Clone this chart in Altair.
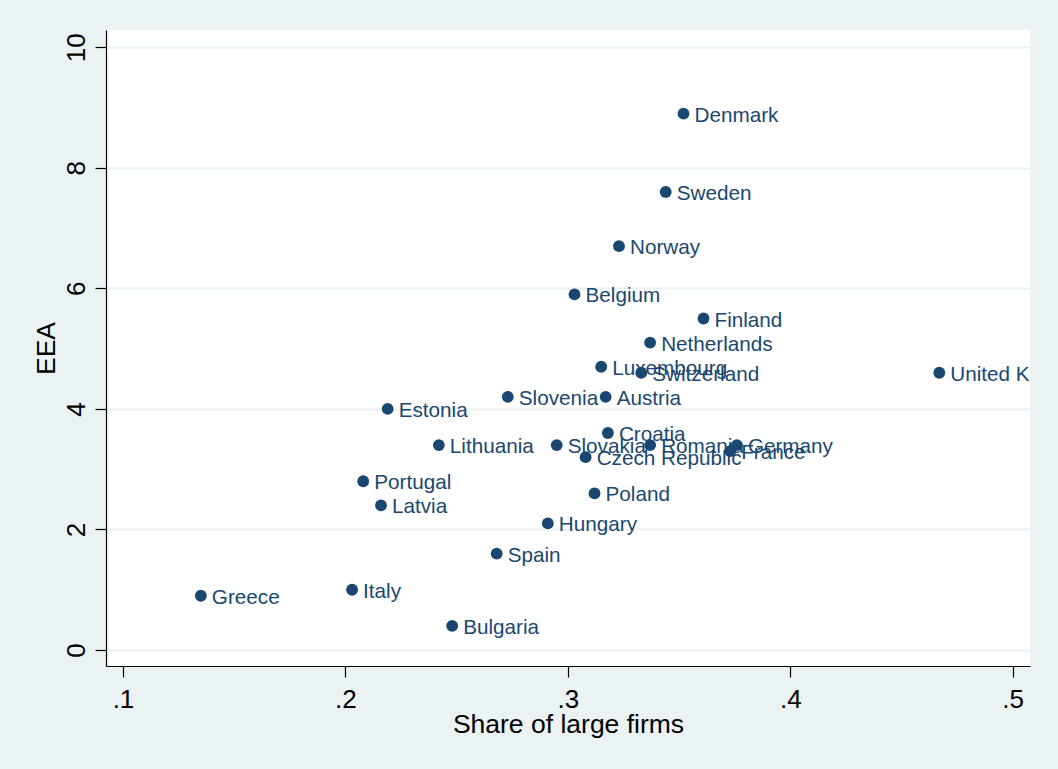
import altair as alt
import pandas as pd

# Country, share of large firms, EEA score
countries = [
    "Denmark", "Sweden", "Norway", "Belgium", "Finland", "Netherlands",
    "Luxembourg", "Switzerland", "United Kingdom", "Estonia", "Slovenia",
    "Austria", "Croatia", "Lithuania", "Slovakia", "Romania", "Germany",
    "France", "Czech Republic", "Portugal", "Latvia", "Poland", "Hungary",
    "Spain", "Italy", "Greece", "Bulgaria",
]
share_large = [
    0.352, 0.344, 0.323, 0.303, 0.361, 0.337,
    0.315, 0.333, 0.467, 0.219, 0.273,
    0.317, 0.318, 0.242, 0.295, 0.337, 0.376,
    0.373, 0.308, 0.208, 0.216, 0.312, 0.291,
    0.268, 0.203, 0.135, 0.248,
]
eea = [
    8.9, 7.6, 6.7, 5.9, 5.5, 5.1,
    4.7, 4.6, 4.6, 4.0, 4.2,
    4.2, 3.6, 3.4, 3.4, 3.4, 3.4,
    3.3, 3.2, 2.8, 2.4, 2.6, 2.1,
    1.6, 1.0, 0.9, 0.4,
]

x_ticks = [0.1, 0.2, 0.3, 0.4, 0.5]
y_ticks = [0, 2, 4, 6, 8, 10]

df = pd.DataFrame({"country": countries, "share": share_large, "eea": eea})

NAVY = "#1A476F"
BG = "#EAF2F3"
FONT = "Liberation Sans"

x_enc = alt.X(
    "share:Q",
    scale=alt.Scale(domain=[0.09236, 0.50778], nice=False, zero=False),
    axis=alt.Axis(
        values=x_ticks,
        labelExpr="substring(format(datum.value, '.1f'), 1)",
        title="Share of large firms",
        grid=False,
        labelFlush=False,
        labelOverlap=False,
        labelBaseline="alphabetic",
        labelPadding=30,
        titleBaseline="alphabetic",
        titleY=66,
    ),
)
y_enc = alt.Y(
    "eea:Q",
    scale=alt.Scale(domain=[-0.2655, 10.287], nice=False, zero=False),
    axis=alt.Axis(
        values=y_ticks,
        format="d",
        title="EEA",
        grid=True,
        gridColor=BG,
        gridWidth=2,
        labelAngle=-90,
        labelAlign="center",
        labelBaseline="alphabetic",
        labelPadding=11,
        labelOverlap=False,
        titleAngle=-90,
        titleBaseline="alphabetic",
        titleX=-52,
    ),
)

base = alt.Chart(df)

labels = base.mark_text(
    align="left",
    baseline="alphabetic",
    dx=11,
    dy=8,
    fontSize=20.7,
    font=FONT,
    color=NAVY,
    clip=True,
).encode(x=x_enc, y=y_enc, text="country:N")

points = base.mark_circle(size=140, color=NAVY, opacity=1).encode(x=x_enc, y=y_enc)

chart = (
    alt.layer(labels, points)
    .properties(
        width=924,
        height=636,
        background=BG,
        autosize=alt.AutoSizeParams(type="none"),
        padding={"left": 106, "top": 30, "right": 28, "bottom": 103},
    )
    .configure_view(fill="white", strokeWidth=0)
    .configure_axis(
        domainColor="black",
        domainWidth=1.2,
        tickColor="black",
        tickWidth=1.2,
        tickSize=11,
        labelColor="black",
        labelFont=FONT,
        labelFontSize=26,
        titleColor="black",
        titleFont=FONT,
        titleFontSize=26.5,
        titleFontWeight="normal",
    )
)

chart.save("out.html", embed_options={"renderer": "svg", "actions": False})
